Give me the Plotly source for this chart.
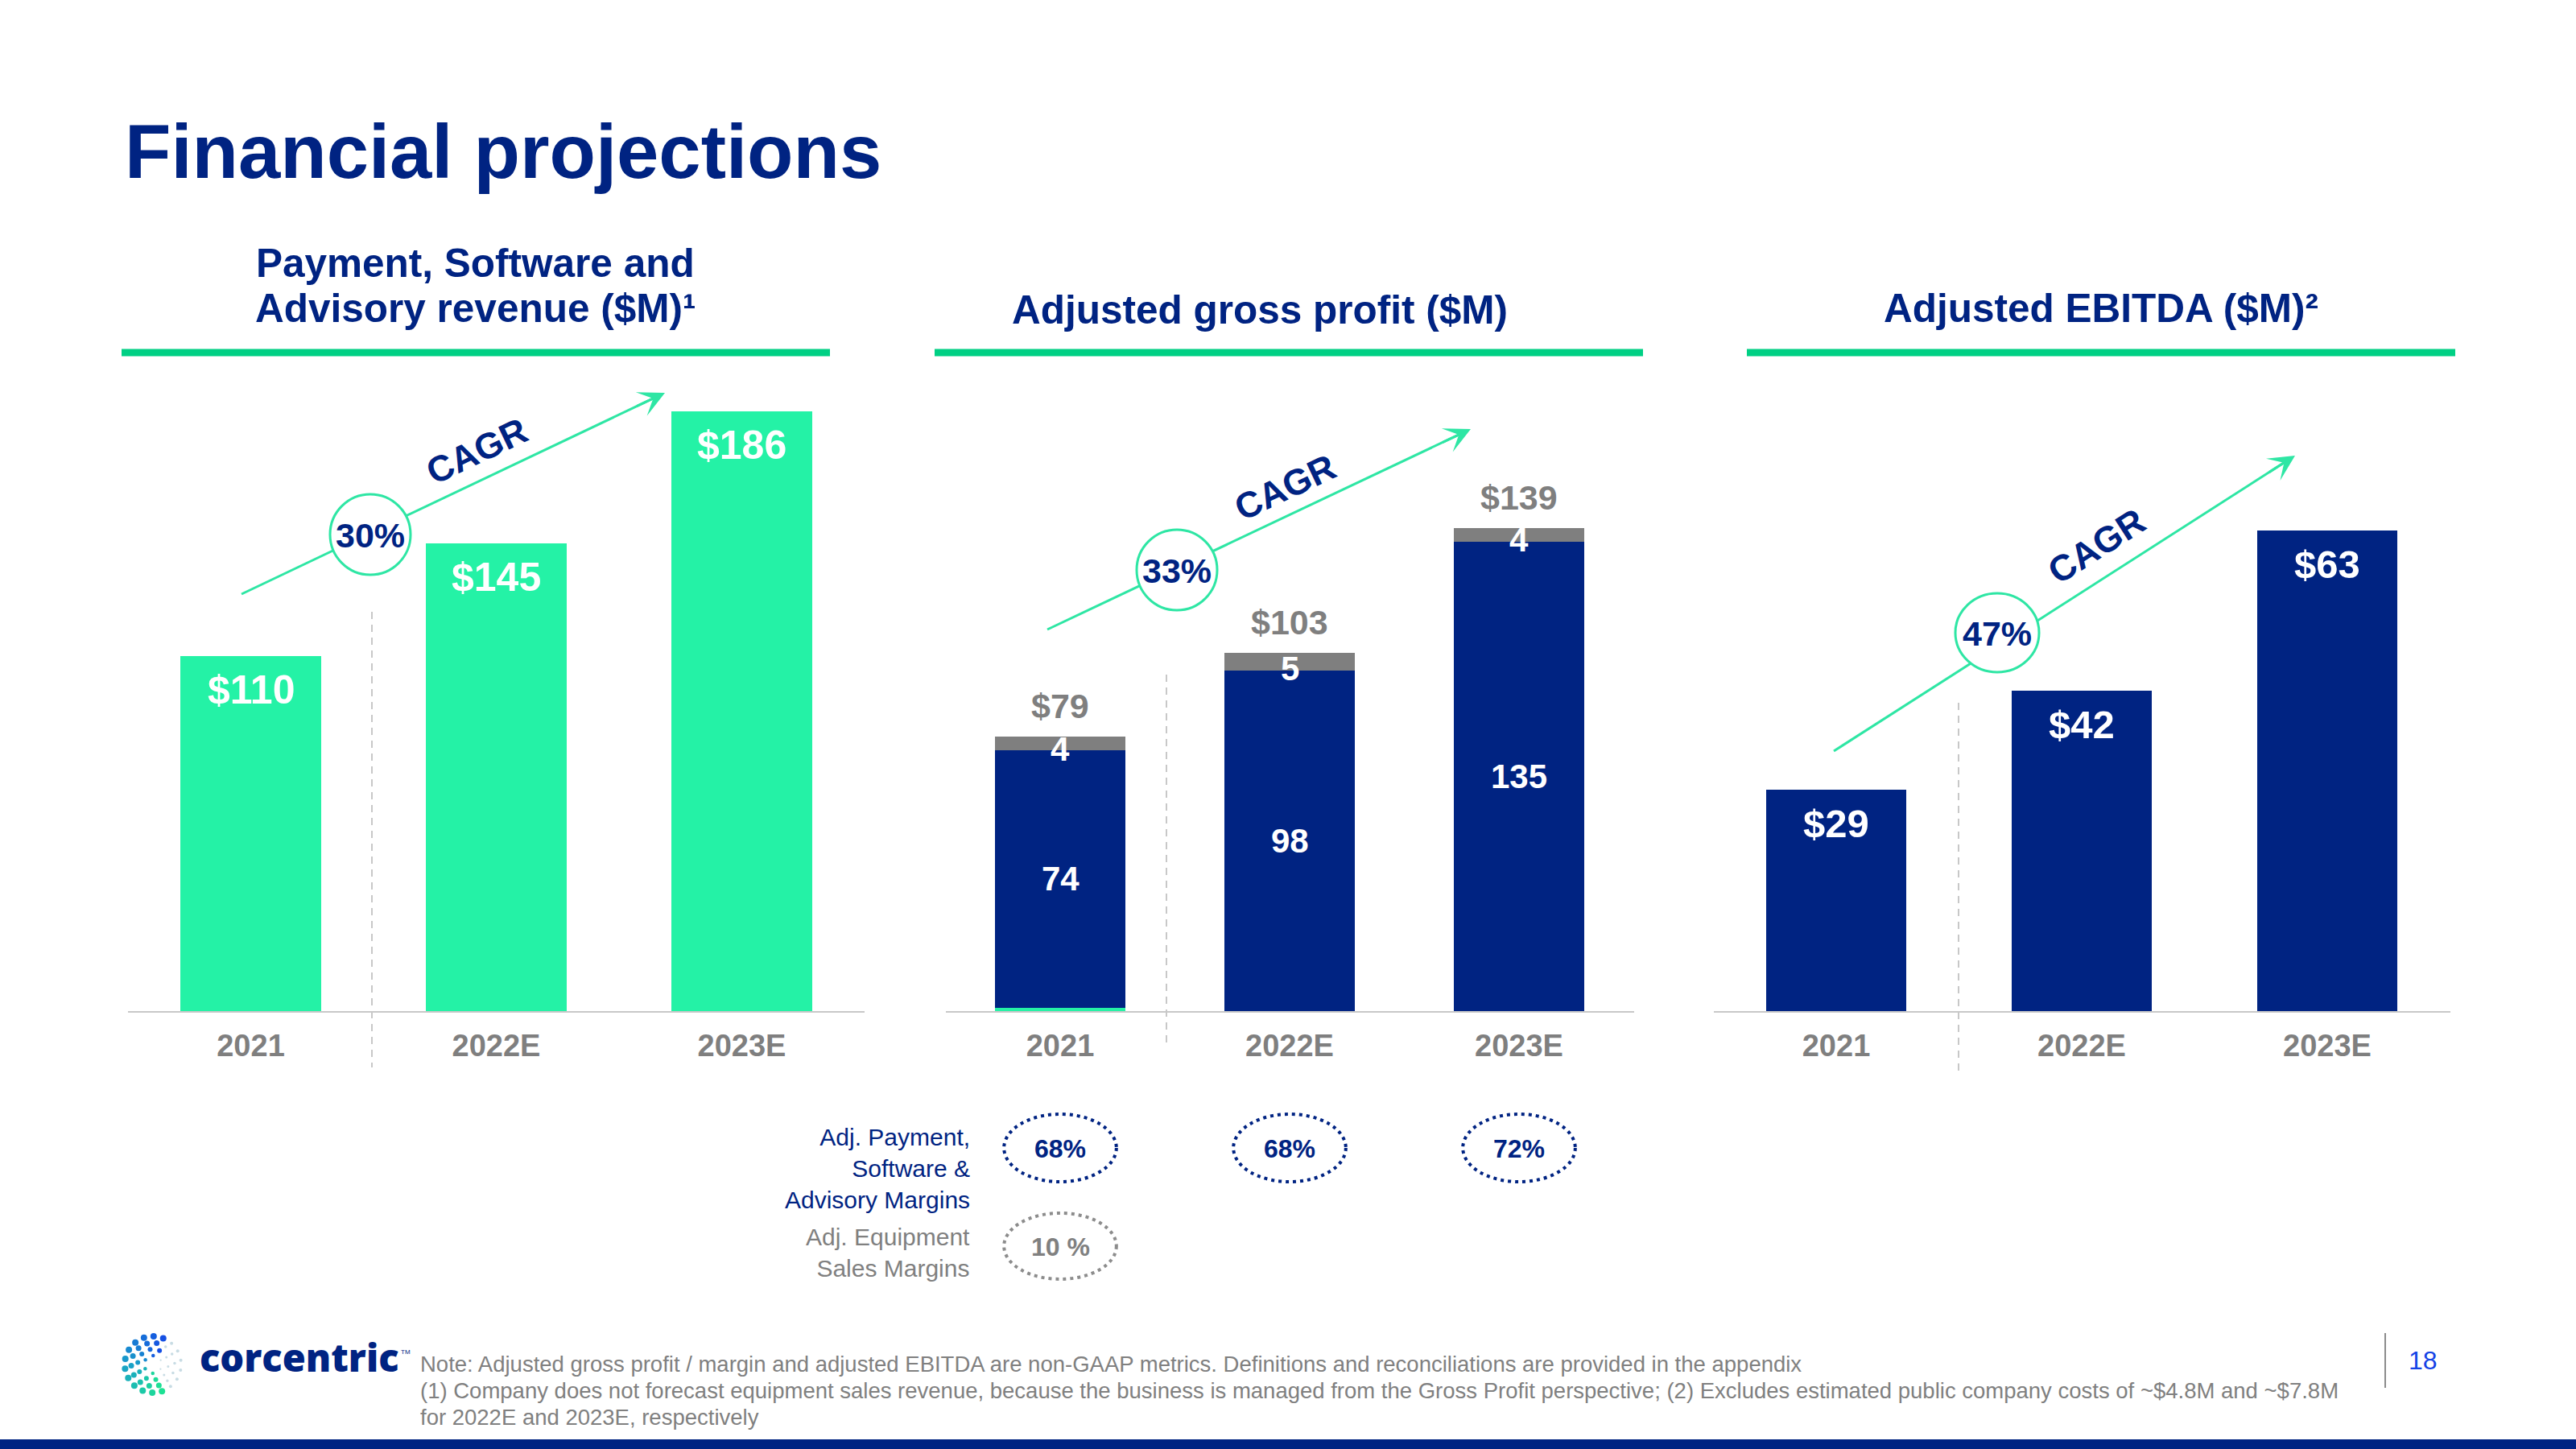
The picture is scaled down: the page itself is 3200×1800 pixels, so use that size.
import math
import plotly.graph_objects as go

W, H = 3200, 1800


def px(x):
    return x / W


def py(y):
    return 1 - y / H


# ---------------- data ----------------
categories = ["2021", "2022E", "2023E"]
revenue = [110, 145, 186]                 # Payment, Software and Advisory revenue ($M)
gp_legacy = [1, 0, 0]                     # small green sliver at base of 2021 bar
gp_payment = [74, 98, 135]                # Adj. gross profit - payment/software/advisory
gp_equipment = [4, 5, 4]                  # Adj. gross profit - equipment
gp_total = [79, 103, 139]
ebitda = [29, 42, 63]                     # Adjusted EBITDA ($M)
cagr_labels = ["30%", "33%", "47%"]
psa_margins = ["68%", "68%", "72%"]
equipment_margins = ["10 %"]

# ---------------- style ----------------
NAVY = "#002382"
GREEN_BAR = "#24F2A6"
GREEN_RULE = "#00D084"
ARROW_GREEN = "#2EE6A4"
GRAY = "#808080"
AXIS_GRAY = "#C8C8C8"
FONT = "Liberation Sans, Arial, sans-serif"

BASE_Y = 1256
TOP_Y = 456
PLOT_H = BASE_Y - TOP_Y

panel_x = [(159, 1074), (1174.5, 2029.5), (2128.5, 3043.5)]
unit_px = [4.007, 4.32, 9.47]

fig = go.Figure()

fig.add_trace(go.Bar(x=categories, y=revenue, xaxis="x", yaxis="y",
                     marker=dict(color=GREEN_BAR, line=dict(width=0)),
                     width=0.574, hoverinfo="skip", showlegend=False))
fig.add_trace(go.Bar(x=categories, y=gp_legacy, xaxis="x2", yaxis="y2",
                     marker=dict(color=GREEN_BAR, line=dict(width=0)),
                     width=0.568, hoverinfo="skip", showlegend=False))
fig.add_trace(go.Bar(x=categories, y=gp_payment, xaxis="x2", yaxis="y2",
                     marker=dict(color=NAVY, line=dict(width=0)),
                     width=0.568, hoverinfo="skip", showlegend=False))
fig.add_trace(go.Bar(x=categories, y=gp_equipment, xaxis="x2", yaxis="y2",
                     marker=dict(color="#7F7F7F", line=dict(width=0)),
                     width=0.568, hoverinfo="skip", showlegend=False))
fig.add_trace(go.Bar(x=categories, y=ebitda, xaxis="x3", yaxis="y3",
                     marker=dict(color=NAVY, line=dict(width=0)),
                     width=0.57, hoverinfo="skip", showlegend=False))

layout_axes = {}
for i, ((x0, x1), u) in enumerate(zip(panel_x, unit_px)):
    sfx = "" if i == 0 else str(i + 1)
    layout_axes["xaxis" + sfx] = dict(
        domain=[px(x0), px(x1)], anchor="y" + sfx, type="category",
        range=[-0.5, 2.5], showline=True, linecolor=AXIS_GRAY, linewidth=2,
        showgrid=False, zeroline=False, ticks="", ticklabelstandoff=8,
        tickfont=dict(family=FONT, size=38, color="#7F7F7F", weight="bold"),
        fixedrange=True)
    layout_axes["yaxis" + sfx] = dict(
        domain=[py(BASE_Y), py(TOP_Y)], anchor="x" + sfx,
        range=[0, PLOT_H / u], visible=False, fixedrange=True)

annotations = []
shapes = []


def text(t, x, y, size, color=NAVY, bold=True, xanchor="center", align="center",
         angle=0, family=FONT, weight=None):
    annotations.append(dict(
        text=t, x=px(x), y=py(y), xref="paper", yref="paper", showarrow=False,
        xanchor=xanchor, yanchor="middle", align=align, textangle=angle,
        font=dict(family=family, size=size, color=color,
                  weight=weight if weight is not None else ("bold" if bold else "normal"))))


# ---- title ----
text("Financial projections", 153, 188, 94, xanchor="left")

# ---- panel headers + rules ----
text("Payment, Software and", 590, 326, 49.5)
text("Advisory revenue ($M)¹", 590, 383, 49.5)
text("Adjusted gross profit ($M)", 1565, 384, 49.5)
text("Adjusted EBITDA ($M)²", 2610, 383, 49.5)
for (a, b) in [(151, 1031), (1161, 2041), (2170, 3050)]:
    shapes.append(dict(type="line", xref="paper", yref="paper", x0=px(a), x1=px(b),
                       y0=py(438), y1=py(438), line=dict(color=GREEN_RULE, width=9)))

# ---- dashed separators ----
for (xx, ya, yb) in [(462, 760, 1326), (1449, 838, 1302), (2433, 873, 1336)]:
    shapes.append(dict(type="line", xref="paper", yref="paper", layer="below",
                       x0=px(xx), x1=px(xx), y0=py(ya), y1=py(yb),
                       line=dict(color="#C8C8C8", width=2, dash="9px,7px")))

# ---- data labels (x given as category index) ----
for i, v in enumerate(revenue):
    annotations.append(dict(text=f"${v}", x=i, y=v, xref="x", yref="y", yshift=-42,
                            showarrow=False, yanchor="middle",
                            font=dict(family=FONT, size=50, color="white", weight="bold")))
for i, v in enumerate(ebitda):
    annotations.append(dict(text=f"${v}", x=i, y=v, xref="x3", yref="y3", yshift=-42,
                            showarrow=False, yanchor="middle",
                            font=dict(family=FONT, size=49, color="white", weight="bold")))
for i, (lg, pay, eq, tot) in enumerate(zip(gp_legacy, gp_payment, gp_equipment, gp_total)):
    top = lg + pay + eq
    annotations.append(dict(text=f"${tot}", x=i, y=top, xref="x2", yref="y2", yshift=38,
                            showarrow=False, yanchor="middle",
                            font=dict(family=FONT, size=43, color="#7F7F7F", weight="bold")))
    annotations.append(dict(text=f"{eq}", x=i, y=lg + pay, xref="x2", yref="y2", yshift=2,
                            showarrow=False, yanchor="middle",
                            font=dict(family=FONT, size=42, color="white", weight="bold")))
    annotations.append(dict(text=f"{pay}", x=i, y=lg + pay / 2, xref="x2", yref="y2",
                            showarrow=False, yanchor="middle",
                            font=dict(family=FONT, size=42, color="white", weight="bold")))

# ---- CAGR arrows ----
arrows = [
    dict(tail=(300, 738), tip=(826, 488), circ=(460, 664, 50, 50), lab=(592, 560)),
    dict(tail=(1301, 782), tip=(1827, 533), circ=(1462, 708, 50, 50), lab=(1596, 605)),
    dict(tail=(2278, 933), tip=(2851, 566), circ=(2481, 786, 52, 49), lab=(2604, 678)),
]
for a, pct in zip(arrows, cagr_labels):
    (tx, ty), (hx, hy) = a["tail"], a["tip"]
    dx, dy = tx - hx, ty - hy
    L = math.hypot(dx, dy)
    ang = math.degrees(math.atan2(hy - ty, hx - tx))
    shapes.append(dict(type="line", xref="paper", yref="paper", layer="above",
                       x0=px(tx), y0=py(ty), x1=px(hx - 8 * (hx - tx) / L),
                       y1=py(hy - 8 * (hy - ty) / L),
                       line=dict(color=ARROW_GREEN, width=3)))
    cx, cy, rx, ry = a["circ"]
    shapes.append(dict(type="circle", xref="paper", yref="paper", layer="above",
                       x0=px(cx - rx), x1=px(cx + rx), y0=py(cy + ry), y1=py(cy - ry),
                       fillcolor="white", line=dict(color=ARROW_GREEN, width=3)))
    annotations.append(dict(text="", x=px(hx), y=py(hy), xref="paper", yref="paper",
                            showarrow=True, arrowhead=3, arrowsize=1.8, arrowwidth=3,
                            arrowcolor=ARROW_GREEN, ax=dx / L * 40, ay=dy / L * 40))
    text(pct, cx, cy + 1, 43)
    text("CAGR", a["lab"][0], a["lab"][1], 45, angle=ang)

# ---- margins ----
text("Adj. Payment,<br>Software &<br>Advisory Margins", 1207, 1451, 30, bold=False,
     xanchor="right", align="right")
text("Adj. Equipment<br>Sales Margins", 1207, 1556, 30, color=GRAY, bold=False,
     xanchor="right", align="right")
for i, m in enumerate(psa_margins):
    shapes.append(dict(type="circle", xref="x2", yref="paper",
                       x0=i - 0.245, x1=i + 0.245, y0=py(1468), y1=py(1384),
                       line=dict(color=NAVY, width=4, dash="4px,5px")))
    annotations.append(dict(text=m, x=i, y=py(1427), xref="x2", yref="paper",
                            showarrow=False, yanchor="middle",
                            font=dict(family=FONT, size=32, color=NAVY, weight="bold")))
for i, m in enumerate(equipment_margins):
    shapes.append(dict(type="circle", xref="x2", yref="paper",
                       x0=i - 0.245, x1=i + 0.245, y0=py(1589), y1=py(1507),
                       line=dict(color="#8C8C8C", width=4, dash="4px,5px")))
    annotations.append(dict(text=m, x=i, y=py(1549), xref="x2", yref="paper",
                            showarrow=False, yanchor="middle",
                            font=dict(family=FONT, size=32, color=GRAY, weight="bold")))

# ---- footer: logo ----
LC = (190, 1695)
rings = [(35, 18, 8.0), (27, 14, 7.0), (19, 10, 6.0), (11, 6, 4.5)]


def lerp_col(c1, c2, t):
    return tuple(int(round(c1[k] + (c2[k] - c1[k]) * t)) for k in range(3))


for r, n, s in rings:
    for k in range(n):
        th = 2 * math.pi * k / n + (0.5 if r % 2 else 0.0)
        deg = math.degrees(th) % 360
        x = LC[0] + r * math.cos(th)
        y = LC[1] - r * math.sin(th)
        if deg < 55 or deg > 305:
            col = "rgb(200,220,228)"
            ss = s * 0.5
        else:
            t = (deg - 55) / 250.0
            if t < 0.5:
                c = lerp_col((20, 70, 230), (25, 160, 200), t / 0.5)
            else:
                c = lerp_col((25, 160, 200), (30, 235, 140), (t - 0.5) / 0.5)
            col = "rgb(%d,%d,%d)" % c
            ss = s
        shapes.append(dict(type="circle", xref="paper", yref="paper",
                           x0=px(x - ss / 2), x1=px(x + ss / 2),
                           y0=py(y + ss / 2), y1=py(y - ss / 2),
                           fillcolor=col, line=dict(width=0)))

text("corcentric", 246, 1686, 47, xanchor="left", family="Open Sans, sans-serif",
     weight=800)
text("TM", 496, 1679, 8, color=NAVY, bold=False, xanchor="left")

# ---- footer: notes ----
notes = [
    "Note: Adjusted gross profit / margin and adjusted EBITDA are non-GAAP metrics. "
    "Definitions and reconciliations are provided in the appendix",
    "(1) Company does not forecast equipment sales revenue, because the business is managed "
    "from the Gross Profit perspective; (2) Excludes estimated public company costs of "
    "~$4.8M and ~$7.8M",
    "for 2022E and 2023E, respectively",
]
for t, yy in zip(notes, [1694, 1727, 1760]):
    text(t, 520, yy, 27.5, color=GRAY, bold=False, xanchor="left")

shapes.append(dict(type="line", xref="paper", yref="paper", x0=px(2963), x1=px(2963),
                   y0=py(1656), y1=py(1724), line=dict(color="#8C8C8C", width=2)))
text("18", 3010, 1690, 32, color="#1443E6", bold=False)

shapes.append(dict(type="rect", xref="paper", yref="paper", x0=0, x1=1,
                   y0=0, y1=py(1788), fillcolor=NAVY, line=dict(width=0)))

fig.update_layout(
    width=W, height=H, margin=dict(l=0, r=0, t=0, b=0),
    paper_bgcolor="white", plot_bgcolor="white",
    barmode="stack", showlegend=False,
    annotations=annotations, shapes=shapes,
    **layout_axes,
)

fig.write_html("out.html")
